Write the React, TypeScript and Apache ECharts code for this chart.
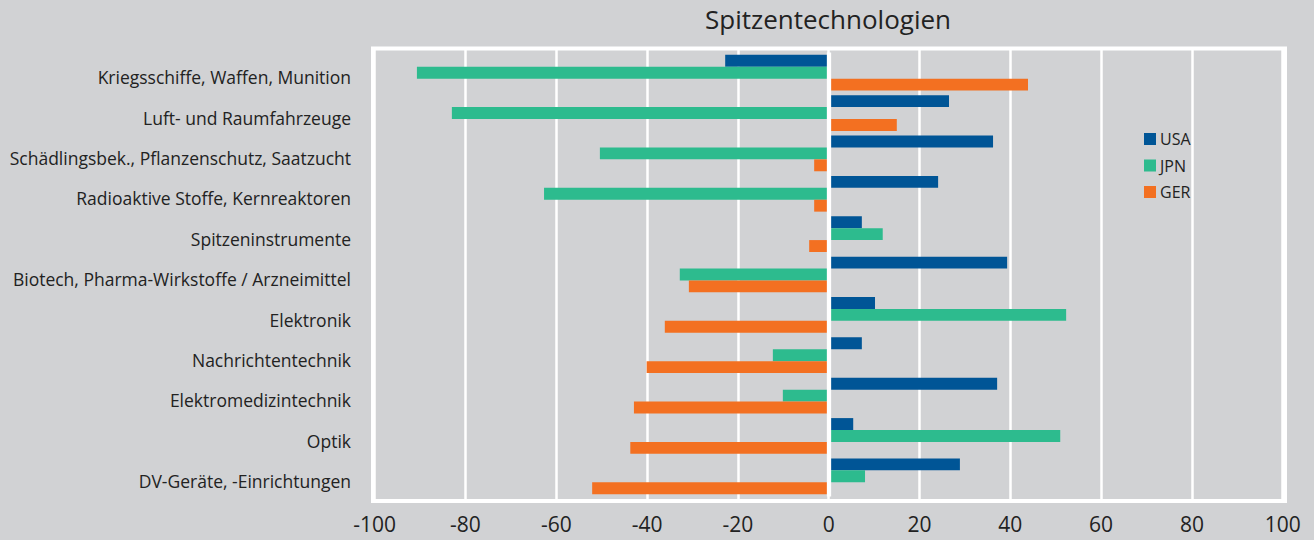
import { useEffect, useRef } from "react";
import * as echarts from "echarts";

const title = "Spitzentechnologien";
const categories = [
  "Kriegsschiffe, Waffen, Munition",
  "Luft- und Raumfahrzeuge",
  "Schädlingsbek., Pflanzenschutz, Saatzucht",
  "Radioaktive Stoffe, Kernreaktoren",
  "Spitzeninstrumente",
  "Biotech, Pharma-Wirkstoffe / Arzneimittel",
  "Elektronik",
  "Nachrichtentechnik",
  "Elektromedizintechnik",
  "Optik",
  "DV-Geräte, -Einrichtungen",
];
const seriesNames = ["USA", "JPN", "GER"];
const usa = [-22.8, 26.5, 36.2, 24.1, 7.3, 39.3, 10.2, 7.3, 37.1, 5.4, 28.9];
const jpn = [-90.7, -83.0, -50.4, -62.7, 11.9, -32.8, 52.3, -12.3, -10.1, 51.0, 8.0];
const ger = [43.9, 15.0, -3.2, -3.2, -4.3, -30.8, -36.1, -40.1, -42.9, -43.7, -52.1];
const axisMin = -100;
const axisMax = 100;
const axisStep = 20;

const colors = ["#005596", "#2dbb8e", "#f37021"];
const FONT = "'Open Sans', 'Noto Sans', sans-serif";
const TEXT = "#222222";

export default function App() {
  const ref = useRef<HTMLDivElement>(null);
  useEffect(() => {
    document.body.style.margin = "0";
    const chart = echarts.init(ref.current!, null, { renderer: "svg" });
    const gridL = 374.7;
    const gridR = 1314 - 1282.7;
    chart.setOption({
      animation: false,
      backgroundColor: "#d1d2d4",
      color: colors,
      textStyle: { fontFamily: FONT },
      title: {
        text: title,
        left: 823,
        textAlign: "center",
        top: 1,
        textStyle: { fontSize: 26, fontWeight: "normal", color: TEXT, fontFamily: FONT },
      },
      legend: {
        data: seriesNames,
        orient: "vertical",
        left: 1144,
        top: 131,
        padding: 0,
        itemWidth: 12,
        itemHeight: 12,
        itemGap: 10.5,
        icon: "rect",
        z: 0,
        textStyle: { fontSize: 16, color: TEXT, fontFamily: FONT, lineHeight: 16, padding: [0, 0, 0, -1] },
      },
      grid: [
        { left: gridL, right: gridR, top: 48.5, bottom: 39 },
        { left: gridL, right: gridR, top: 52.5, bottom: 43.5 },
      ],
      xAxis: [
        {
          gridIndex: 0,
          type: "value",
          min: axisMin,
          max: axisMax,
          interval: axisStep,
          z: 1,
          axisLine: { show: false },
          axisTick: { show: false },
          splitLine: { show: true, lineStyle: { color: "#ffffff", width: 2.5 } },
          axisLabel: { fontSize: 21, color: TEXT, margin: 12, fontFamily: FONT },
        },
        {
          gridIndex: 1,
          type: "value",
          min: axisMin,
          max: axisMax,
          interval: axisStep,
          show: false,
          splitLine: { show: false },
        },
      ],
      yAxis: [
        { gridIndex: 0, type: "value", show: false, splitLine: { show: false } },
        {
          gridIndex: 1,
          type: "category",
          data: categories,
          inverse: true,
          axisLine: { show: false },
          axisTick: { show: false },
          splitLine: { show: false },
          axisLabel: {
            fontSize: 17.5,
            color: TEXT,
            margin: 23.7,
            verticalAlign: "top",
            lineHeight: 9.4,
            fontFamily: FONT,
          },
        },
      ],
      graphic: [
        {
          type: "rect",
          silent: true,
          z: 1,
          shape: { x: 373, y: 48.5, width: 912, height: 452.5 },
          style: { fill: "none", stroke: "#ffffff", lineWidth: 4 },
        },
      ],
      series: [
        {
          name: seriesNames[0],
          type: "bar",
          xAxisIndex: 1,
          yAxisIndex: 1,
          data: usa,
          barGap: "0%",
          barCategoryGap: "11.5%",
        },
        {
          name: seriesNames[1],
          type: "bar",
          xAxisIndex: 1,
          yAxisIndex: 1,
          data: jpn,
          barGap: "0%",
          barCategoryGap: "11.5%",
        },
        {
          name: seriesNames[2],
          type: "bar",
          xAxisIndex: 1,
          yAxisIndex: 1,
          data: ger,
          barGap: "0%",
          barCategoryGap: "11.5%",
          markLine: {
            silent: true,
            symbol: "none",
            z: 5,
            label: { show: false },
            lineStyle: { color: "#ffffff", width: 4.3, type: "solid" },
            data: [{ xAxis: 0 }],
          },
        },
      ],
    });
    return () => chart.dispose();
  }, []);
  return <div ref={ref} style={{ width: 1314, height: 540 }} />;
}
